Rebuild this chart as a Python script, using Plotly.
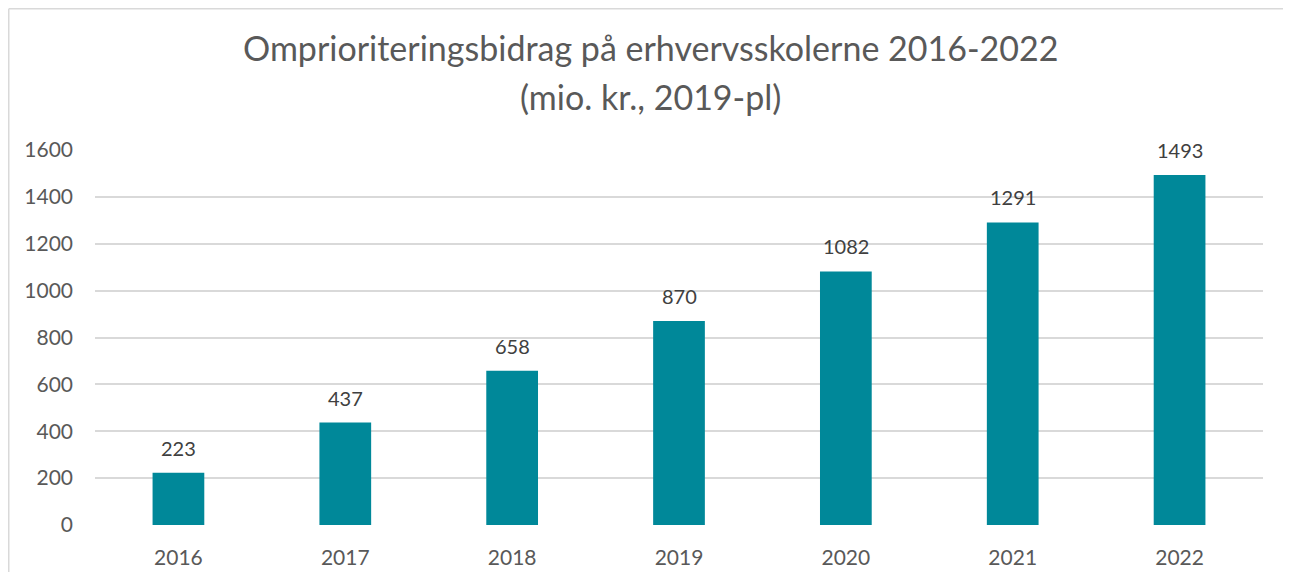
import plotly.graph_objects as go

years = ["2016", "2017", "2018", "2019", "2020", "2021", "2022"]
values = [223, 437, 658, 870, 1082, 1291, 1493]
y_ticks = [0, 200, 400, 600, 800, 1000, 1200, 1400, 1600]
title_1 = "Omprioriteringsbidrag på erhvervsskolerne 2016-2022"
title_2 = "(mio. kr., 2019-pl)"

# page body has an 8px default margin
W, H = 1291 - 16, 580 - 16
L, R, T, B = 87, 20, 142, 47
pw = W - L - R
ph = H - T - B

FONT = "Lato, Noto Sans, sans-serif"

fig = go.Figure(go.Bar(
    x=years, y=values,
    marker=dict(color="#008899", line=dict(width=0)),
    width=0.31,
    cliponaxis=False,
    hoverinfo="x+y",
))

# data labels: x given as category index on the category axis
for i, v in enumerate(values):
    fig.add_annotation(x=i, y=v, text=str(v), showarrow=False,
                       xanchor="center", yanchor="middle", yshift=25,
                       font=dict(family=FONT, size=20, color="#404040"))

# chart frame: only top and left edges visible (the rest is cropped)
x_left = -(L - 0.75) / pw
x_right = (W - L) / pw
y_top = 1 + (T - 0.75) / ph
y_bottom = -B / ph
frame = dict(color="#d9d9d9", width=1.5)
fig.add_shape(type="line", xref="paper", yref="paper",
              x0=x_left, x1=x_right, y0=y_top, y1=y_top, line=frame, layer="below")
fig.add_shape(type="line", xref="paper", yref="paper",
              x0=x_left, x1=x_left, y0=y_bottom, y1=y_top, line=frame, layer="below")

fig.add_annotation(text=title_1, xref="paper", yref="paper", x=0.476, y=1 + 102 / ph,
                   xanchor="center", yanchor="middle", showarrow=False,
                   font=dict(family=FONT, size=34, color="#595959"))
fig.add_annotation(text=title_2, xref="paper", yref="paper", x=0.476, y=1 + 54 / ph,
                   xanchor="center", yanchor="middle", showarrow=False,
                   font=dict(family=FONT, size=34, color="#595959"))

fig.update_layout(
    width=W, height=H,
    margin=dict(l=L, r=R, t=T, b=B, autoexpand=False),
    paper_bgcolor="white", plot_bgcolor="white",
    font=dict(family=FONT, color="#595959"),
    showlegend=False,
    xaxis=dict(type="category", categoryorder="array", categoryarray=years,
               range=[-0.5, len(years) - 0.5],
               showgrid=False, showline=False, ticks="", ticklabelstandoff=18, automargin=False,
               tickfont=dict(size=21, color="#595959")),
    yaxis=dict(range=[0, 1600], tickvals=y_ticks, showgrid=True, gridcolor="#d9d9d9", gridwidth=1.5,
               zeroline=False, showline=False, ticks="", ticklabelstandoff=21, automargin=False,
               tickfont=dict(size=21, color="#595959")),
)

fig.write_html("out.html")
